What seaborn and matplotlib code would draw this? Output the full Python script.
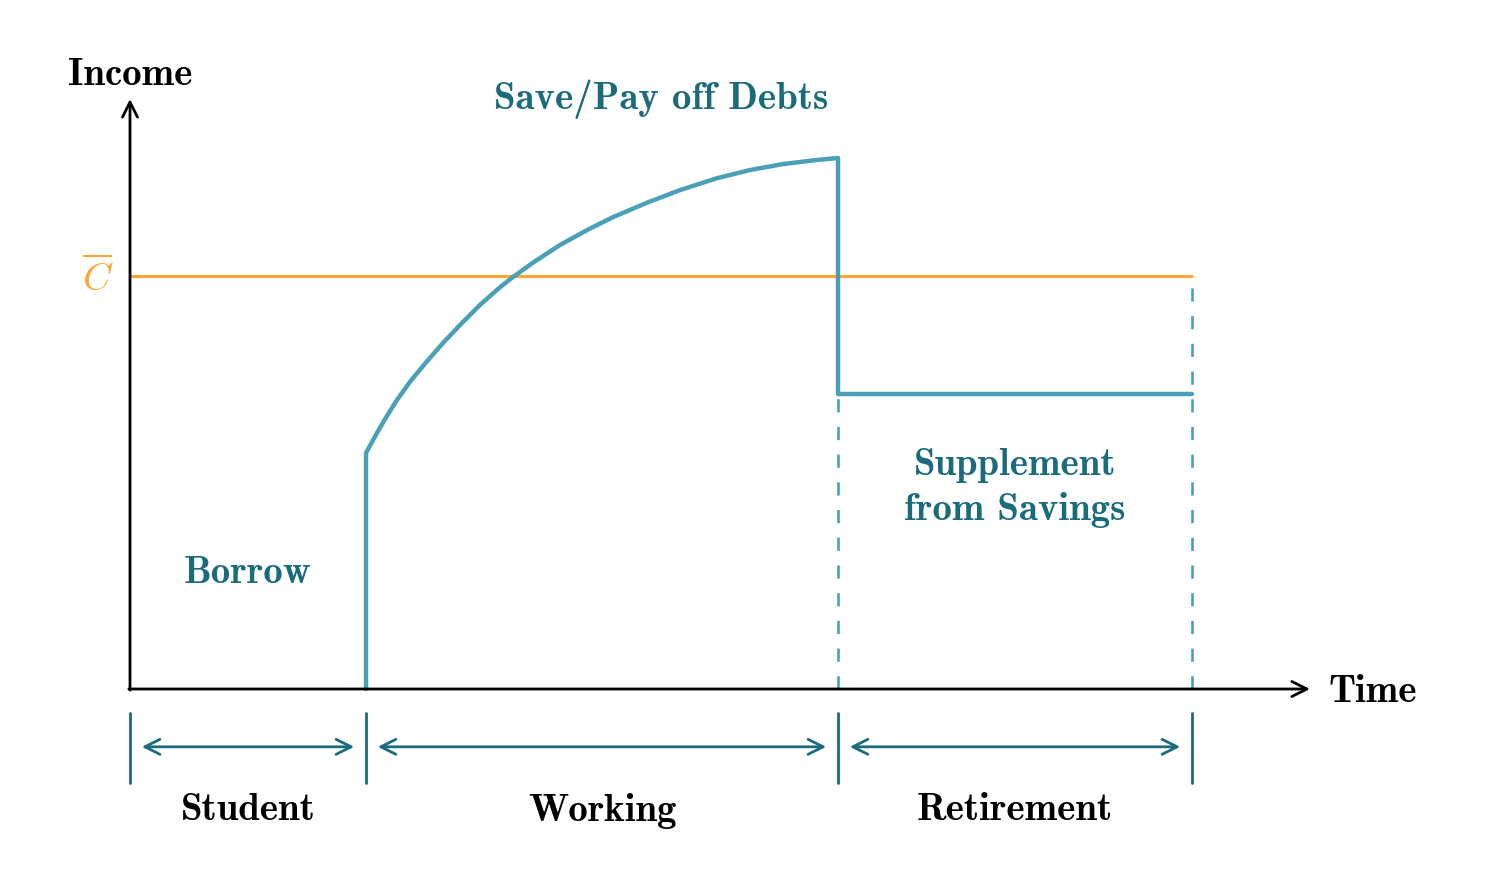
import matplotlib
matplotlib.use("Agg")
import matplotlib.pyplot as plt
import seaborn as sns
import pandas as pd

# ---- data ----
phase_names = ["Student", "Working", "Retirement"]
phase_bounds = [0, 2, 6, 9]
consumption_level = 3.5          # C-bar
income_x = [2.0, 2.0, 2.091, 2.175, 2.260, 2.373, 2.514, 2.655, 2.797, 2.966, 3.136, 3.248,
            3.418, 3.644, 3.884, 4.096, 4.379, 4.661, 4.972, 5.254, 5.537, 5.819, 6.0,
            6.0, 9.0]
income_y = [0.0, 2.0, 2.167, 2.310, 2.445, 2.604, 2.774, 2.935, 3.085, 3.255, 3.405, 3.493,
            3.615, 3.763, 3.895, 4.000, 4.120, 4.228, 4.328, 4.398, 4.449, 4.483, 4.5,
            2.5, 2.5]
retire_income = 2.5
x_axis_end = 10.0
y_axis_end = 5.0

sns.set_theme(style="white")
plt.rcParams["mathtext.fontset"] = "cm"
plt.rcParams["axes.unicode_minus"] = False

CURVE = "#4aa0b6"
DARK = "#1a6b7b"
ORANGE = "#ffa533"
FONT = "cmb10"
FS = 28

fig = plt.figure(figsize=(14.92, 8.82), dpi=100)
ax = fig.add_axes([0, 0, 1, 1])
s = 118.0
ax.set_xlim(-130 / s, (1492 - 130) / s)
ax.set_ylim(-(882 - 689) / s, 689 / s)
ax.axis("off")

# C-bar line
sns.lineplot(x=[0, phase_bounds[3]], y=[consumption_level, consumption_level],
             ax=ax, color=ORANGE, lw=2.2, zorder=2)

# dashed verticals
ax.plot([phase_bounds[2], phase_bounds[2]], [0, retire_income], color=CURVE, lw=1.9,
        ls=(0, (5.0, 5.5)), zorder=2)
ax.plot([phase_bounds[3], phase_bounds[3]], [0, consumption_level], color=CURVE, lw=1.9,
        ls=(0, (5.0, 5.5)), zorder=2)

# income path
df = pd.DataFrame({"t": income_x, "inc": income_y})
sns.lineplot(data=df, x="t", y="inc", sort=False, estimator=None, ax=ax,
             color=CURVE, lw=3.2, zorder=3, solid_joinstyle="round")

# axes arrows
arrow_kw = dict(arrowstyle="->,head_length=0.9,head_width=0.45", color="black", lw=2.0,
                shrinkA=0, shrinkB=0)
ax.annotate("", xy=(x_axis_end, 0), xytext=(-0.01, 0), arrowprops=arrow_kw, zorder=4)
ax.annotate("", xy=(0, y_axis_end), xytext=(0, -0.01), arrowprops=arrow_kw, zorder=4)

# phase brackets
for b in phase_bounds:
    ax.plot([b, b], [-0.2, -0.8], color=DARK, lw=2.0)
gap = 0.1
dbl_kw = dict(arrowstyle="<->,head_length=0.9,head_width=0.45", color=DARK, lw=2.0,
              shrinkA=0, shrinkB=0)
for i, name in enumerate(phase_names):
    a, b = phase_bounds[i], phase_bounds[i + 1]
    ax.annotate("", xy=(b - gap, -0.49), xytext=(a + gap, -0.49), arrowprops=dbl_kw)
    ax.text((a + b) / 2, -1.03, name, ha="center", va="center", family=FONT,
            fontsize=FS, color="black")

# labels
ax.text(0, 5.2, "Income", ha="center", va="center", family=FONT, fontsize=FS, color="black")
ax.text(10.16, -0.03, "Time", ha="left", va="center", family=FONT, fontsize=FS, color="black")
ax.text(-0.27, 3.48, r"$\overline{C}$", ha="center", va="center", fontsize=28, color=ORANGE)
ax.text(4.5, 5.0, "Save/Pay off Debts", ha="center", va="center", family=FONT,
        fontsize=FS, color=DARK)
ax.text(1.0, 0.98, "Borrow", ha="center", va="center", family=FONT, fontsize=FS, color=DARK)
ax.text(7.5, 1.7, "Supplement\nfrom Savings", ha="center", va="center", family=FONT,
        fontsize=FS, color=DARK, linespacing=1.32)

fig.savefig("out.png", dpi=100)
